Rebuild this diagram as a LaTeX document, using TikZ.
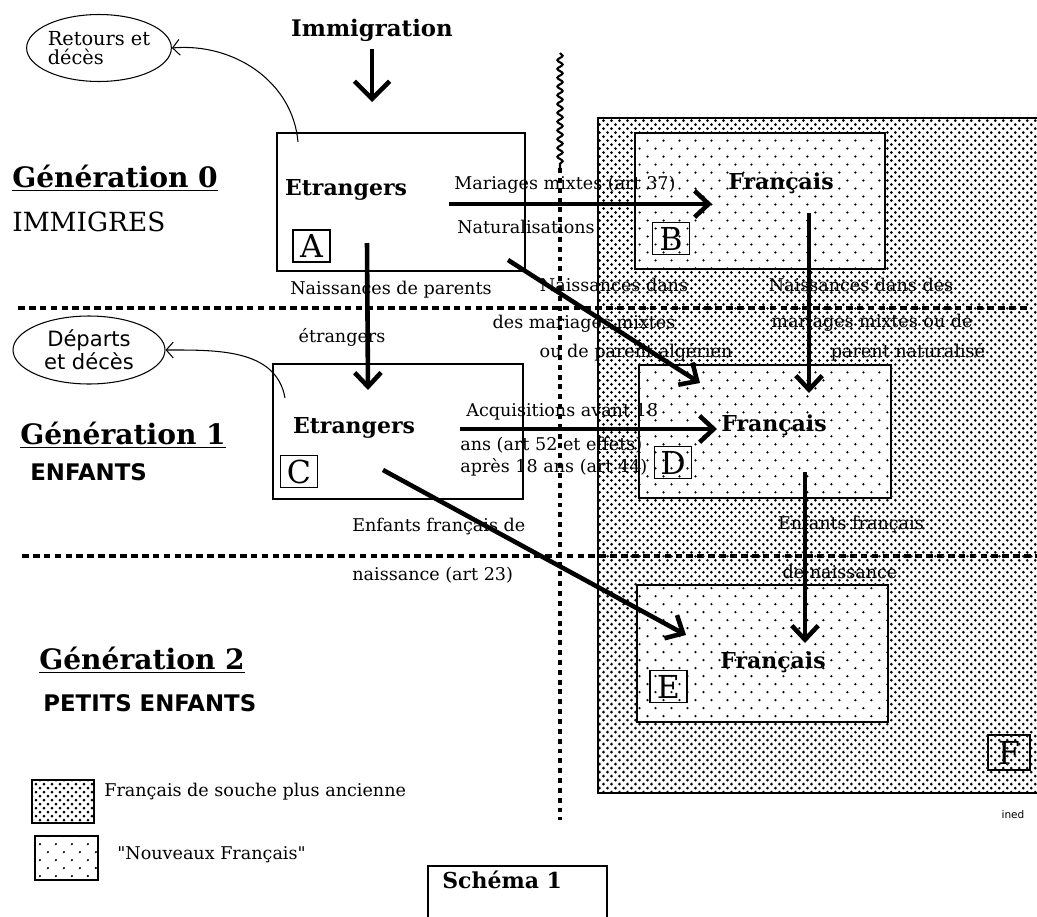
\documentclass[tikz,border=0pt]{standalone}
\usepackage{fontspec}
\setmainfont{DejaVu Serif}
\newfontfamily\geneva{DejaVu Sans}
\newfontfamily\rawserif{DejaVu Serif}[Ligatures=TeXOff]
\usetikzlibrary{arrows.meta, patterns, shapes.geometric, decorations.pathmorphing, positioning}

% motifs de remplissage
\pgfdeclarepatternformonly{souche}{\pgfqpoint{-1pt}{-1pt}}{\pgfqpoint{3.55pt}{3.55pt}}{\pgfqpoint{4.55pt}{4.55pt}}{%
  \pgfpathcircle{\pgfqpoint{0pt}{0pt}}{0.85pt}%
  \pgfpathcircle{\pgfqpoint{2.27pt}{2.27pt}}{0.85pt}%
  \pgfusepath{fill}}
\pgfdeclarepatternformonly{nouveaux}{\pgfqpoint{-1pt}{-1pt}}{\pgfqpoint{8.1pt}{8.1pt}}{\pgfqpoint{9.1pt}{9.1pt}}{%
  \pgfpathcircle{\pgfqpoint{0pt}{0pt}}{0.7pt}%
  \pgfpathcircle{\pgfqpoint{4.55pt}{4.55pt}}{0.7pt}%
  \pgfusepath{fill}}

\begin{document}
\begin{tikzpicture}[x=0.02cm, y=-0.02cm, inner sep=0pt]

    \tikzset{
      etrbox/.style   = {draw, line width=0.8pt, fill=white},
      frbox/.style    = {draw, line width=0.8pt, fill=white, postaction={pattern=nouveaux}},
      souchebox/.style= {draw, line width=0.8pt, fill=white, postaction={pattern=souche}},
      lettre/.style   = {draw, line width=0.6pt, minimum width=0.74cm, minimum height=0.64cm,
                         font=\fontsize{18}{18}\selectfont},
      bigword/.style  = {font=\bfseries\fontsize{12.5}{14}\selectfont},
      gentitle/.style = {anchor=west, font=\bfseries\fontsize{16}{18}\selectfont},
      gensub/.style   = {anchor=west, font=\geneva\bfseries\fontsize{13}{15}\selectfont},
      lbl/.style      = {font=\fontsize{10}{11}\selectfont},
      bulle/.style    = {ellipse, draw, line width=0.6pt, align=left},
      flow/.style     = {line width=2.6pt, -{Straight Barb[length=8pt, width=15pt]}},
      outflow/.style  = {line width=0.6pt, -{Straight Barb[length=4pt, width=9pt]}},
      gensep/.style   = {line width=2.4pt, dash pattern=on 3.8pt off 2.4pt},
      colsep/.style   = {line width=2.6pt, dash pattern=on 2.8pt off 2.8pt},
      colwave/.style  = {line width=1.2pt, decorate,
                         decoration={snake, amplitude=1.5pt, segment length=5pt}},
    }

    \useasboundingbox (0,0) rectangle (1037,916);

    % zones
    \node[souchebox, minimum width=8.94cm, minimum height=13.5cm] (F) at (821.5,455.5) {};
    \node[frbox, minimum width=5cm,    minimum height=2.72cm] (B) at (760,201)   {};
    \node[frbox, minimum width=5.04cm, minimum height=2.66cm] (D) at (765,431.5) {};
    \node[frbox, minimum width=5.02cm, minimum height=2.74cm] (E) at (762.5,653.5) {};
    \node[etrbox, minimum width=4.96cm, minimum height=2.76cm] (A) at (401,202)  {};
    \node[etrbox, minimum width=5cm,    minimum height=2.7cm]  (C) at (398,431.5) {};

    % separations
    \draw[gensep] (18,308) -- (1030,308);
    \draw[gensep] (22,556) -- (1037,556);
    \coordinate (sepTop) at (560,53);
    \coordinate (sepMid) at (560,168);
    \coordinate (sepBot) at (560,820);
    \draw[colwave] (sepTop) -- (sepMid);
    \draw[colsep]  (sepMid) -- (sepBot);

    % textes des cases
    \node[bigword] (etrA) at (346,190) {Etrangers};
    \node[bigword] (frB)  at (781,183) {Français};
    \node[bigword] (etrC) at (354,428) {Etrangers};
    \node[bigword] (frD)  at (774,425) {Français};
    \node[bigword] (frE)  at (773,662) {Français};

    \node[lettre] (tA) at (311.5,246)  {A};
    \node[lettre] (tB) at (671,238.5)  {B};
    \node[lettre] (tC) at (299,471.5)  {C};
    \node[lettre] (tD) at (673,462.5)  {D};
    \node[lettre] (tE) at (668.5,686.5){E};
    \node[lettre, minimum width=0.84cm, minimum height=0.7cm] (tF) at (1009,752.5) {F};

    % generations
    \node[gentitle] (g0) at (12,178) {\underline{Génération 0}};
    \node[anchor=west, font=\fontsize{15}{17}\selectfont] (g0s) at (12,222) {IMMIGRES};
    \node[gentitle] (g1) at (20,435) {\underline{Génération 1}};
    \node[gensub]   (g1s) at (30,472) {ENFANTS};
    \node[gentitle] (g2) at (39,660) {\underline{Génération 2}};
    \node[gensub]   (g2s) at (43,703) {PETITS ENFANTS};

    % entrees et sorties
    \node[font=\bfseries\fontsize{13}{15}\selectfont, inner sep=4pt] (immig) at (372,30) {Immigration};
    \coordinate (immEnd) at (372,102);
    \draw[flow, -{Straight Barb[length=10pt, width=20pt]}] (immig) -- (immEnd);

    \node[bulle, minimum width=2.76cm, minimum height=1.34cm,
          font=\fontsize{11}{11}\selectfont] (ret) at (99,48) {Retours et\\décès};
    \node[bulle, minimum width=3.04cm, minimum height=1.36cm,
          font=\geneva\fontsize{12}{13}\selectfont, align=center] (dep) at (89,350) {Départs\\et décès};
    \coordinate (retStart) at (298,142);
    \coordinate (depStart) at (285,398);
    \draw[outflow] (retStart) to[out=95, in=5] (ret.east);
    \draw[outflow] (depStart) to[out=100, in=0] (dep.east);

    % flux
    \coordinate (aOut) at (367,243);  \coordinate (cIn) at (368,390);
    \coordinate (mStart) at (449,204); \coordinate (mEnd) at (712,204);
    \coordinate (nStart) at (508,260); \coordinate (nEnd) at (700,383);
    \coordinate (bOut) at (809,213);  \coordinate (dIn) at (809,393);
    \coordinate (qStart) at (460,429); \coordinate (qEnd) at (717,429);
    \coordinate (cOut) at (383,470);  \coordinate (eIn) at (686,635);
    \coordinate (dOut) at (805,472);  \coordinate (eIn2) at (805,643);

    \draw[flow] (aOut) -- (cIn);
    \draw[flow] (mStart) -- (mEnd);
    \draw[flow] (nStart) -- (nEnd);
    \draw[flow] (bOut) -- (dIn);
    \draw[flow] (qStart) -- (qEnd);
    \draw[flow] (cOut) -- (eIn);
    \draw[flow] (dOut) -- (eIn2);

    % libelles des flux
    \node[lbl] (l1) at (391,290) {Naissances de parents};
    \node[lbl] (l2) at (342,337) {étrangers};
    \node[lbl] (l3) at (565,185) {Mariages mixtes (art 37)};
    \node[lbl] (l4) at (526,227) {Naturalisations};
    \node[lbl] (l5) at (614,285) {Naissances dans};
    \node[lbl] (l6) at (584,324) {des mariages mixtes};
    \node[lbl] (l7) at (636,352) {ou de parent algérien};
    \node[lbl] (l8) at (861,285) {Naissances dans des};
    \node[lbl] (l9) at (872,323) {mariages mixtes ou de};
    \node[lbl] (l10) at (908,352) {parent naturalisé};
    \node[lbl, anchor=west] (l11) at (466,412) {Acquisitions avant 18};
    \node[lbl, anchor=west] (l12) at (460,445) {ans (art 52 et effets)};
    \node[lbl, anchor=west] (l13) at (460,467) {après 18 ans (art 44)};
    \node[lbl, anchor=west] (l14) at (352,527) {Enfants français de};
    \node[lbl, anchor=west] (l15) at (352,575) {naissance (art 23)};
    \node[lbl] (l16) at (851,525) {Enfants français};
    \node[lbl] (l17) at (840,572) {de naissance};

    % legende
    \node[souchebox, line width=0.6pt, minimum width=1.24cm, minimum height=0.86cm] (legS) at (63,801.5) {};
    \node[frbox, line width=0.6pt, minimum width=1.26cm, minimum height=0.88cm] (legN) at (66.5,858) {};
    \node[lbl, anchor=west] (legStxt) at (104,792) {Français de souche plus ancienne};
    \node[lbl, anchor=west, font=\rawserif\fontsize{10}{11}\selectfont] (legNtxt) at (117,855) {"Nouveaux Français"};

    \node[font=\geneva\fontsize{6}{7}\selectfont] (ined) at (1013,815) {ined};

    \node[draw, line width=1pt, minimum width=3.58cm, minimum height=1.2cm] (schema) at (517.5,896) {};
    \node[font=\bfseries\fontsize{12.5}{14}\selectfont, anchor=west] (schtxt) at (442,880) {Schéma 1};

  \end{tikzpicture}
\end{document}
